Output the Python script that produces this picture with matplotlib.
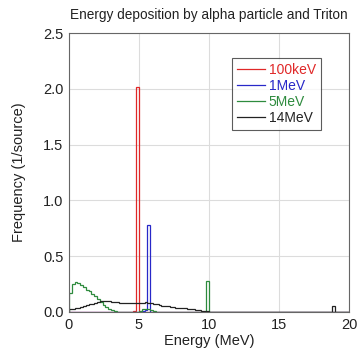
import numpy as np
import matplotlib
matplotlib.use("Agg")
import matplotlib.pyplot as plt

plt.rcParams['font.family'] = ['Liberation Sans', 'DejaVu Sans']

# 0.2 MeV bins from 0 to 20 MeV
bin_edges = np.linspace(0, 20, 101)

labels = ["100keV", "1MeV", "5MeV", "14MeV"]
colors = ["#e02828", "#2828c8", "#2e8b3e", "#222222"]

# sparse histograms: {bin_start_MeV: frequency}
red_vals = {4.6: 0.005, 4.8: 2.02}
blue_vals = {5.2: 0.01, 5.4: 0.02, 5.6: 0.78}
green_vals = {0.0: 0.17, 0.2: 0.25, 0.4: 0.27, 0.6: 0.26, 0.8: 0.24, 1.0: 0.22,
              1.2: 0.20, 1.4: 0.185, 1.6: 0.165, 1.8: 0.14, 2.0: 0.12, 2.2: 0.09,
              2.4: 0.065, 2.6: 0.045, 2.8: 0.03, 3.0: 0.018, 3.2: 0.008, 3.4: 0.004,
              3.6: 0.002, 5.0: 0.01, 5.2: 0.025, 5.4: 0.03, 5.6: 0.025, 5.8: 0.02,
              6.0: 0.01, 9.8: 0.28}
black_vals = {0.0: 0.025, 0.2: 0.03, 0.4: 0.035, 0.6: 0.04, 0.8: 0.045, 1.0: 0.055,
              1.2: 0.06, 1.4: 0.07, 1.6: 0.075, 1.8: 0.085, 2.0: 0.09, 2.2: 0.095,
              2.4: 0.10, 2.6: 0.098, 2.8: 0.095, 3.0: 0.092, 3.2: 0.09, 3.4: 0.088,
              3.6: 0.085, 3.8: 0.083, 4.0: 0.08, 4.2: 0.082, 4.4: 0.08, 4.6: 0.078,
              4.8: 0.08, 5.0: 0.083, 5.2: 0.085, 5.4: 0.088, 5.6: 0.085, 5.8: 0.082,
              6.0: 0.075, 6.2: 0.068, 6.4: 0.062, 6.6: 0.058, 6.8: 0.055, 7.0: 0.05,
              7.2: 0.048, 7.4: 0.045, 7.6: 0.04, 7.8: 0.038, 8.0: 0.035, 8.2: 0.032,
              8.4: 0.03, 8.6: 0.028, 8.8: 0.025, 9.0: 0.02, 9.2: 0.018, 9.4: 0.012,
              9.6: 0.008, 9.8: 0.005, 10.0: 0.004, 10.2: 0.004, 10.4: 0.003,
              10.6: 0.003, 10.8: 0.003, 11.0: 0.002, 11.2: 0.002, 11.4: 0.002,
              11.6: 0.001, 11.8: 0.001, 18.8: 0.05}

series = [red_vals, blue_vals, green_vals, black_vals]

x_ticks = [0, 5, 10, 15, 20]
y_ticks = [0.0, 0.5, 1.0, 1.5, 2.0, 2.5]


def to_array(d):
    arr = np.zeros(len(bin_edges) - 1)
    for k, v in d.items():
        arr[int(round(k / 0.2))] = v
    return arr


fig = plt.figure(figsize=(3.58, 3.56), dpi=100)
ax = fig.add_axes([0.1927, 0.1236, 0.7821, 0.7837])

for d, lab, c in zip(series, labels, colors):
    ax.stairs(to_array(d), bin_edges, color=c, lw=0.9, label=lab)

ax.set_xlim(0, 20)
ax.set_ylim(0, 2.5)
ax.set_xticks(x_ticks)
ax.set_yticks(y_ticks)
ax.set_yticklabels([f"{v:.1f}" for v in y_ticks])
ax.grid(True, color="#dcdcdc", lw=0.8)
ax.set_axisbelow(True)
ax.tick_params(length=0, labelsize=10.5, colors="#222222", pad=4)
for s in ax.spines.values():
    s.set_color("#666666")
    s.set_linewidth(0.8)

ax.set_xlabel("Energy (MeV)", fontsize=10.5, color="#222222", labelpad=2)
ax.set_ylabel("Frequency (1/source)", fontsize=10.5, color="#222222", labelpad=12)
ax.set_title("Energy deposition by alpha particle and Triton", fontsize=9.8,
             color="#222222", pad=10)

leg = ax.legend(loc="upper left", bbox_to_anchor=(0.582, 0.91), fontsize=10,
                frameon=True, fancybox=False, edgecolor="#333333",
                handlelength=2.0, handletextpad=0.3, borderpad=0.35,
                labelspacing=0.15, borderaxespad=0)
leg.get_frame().set_linewidth(0.8)
for t, c in zip(leg.get_texts(), colors):
    t.set_color(c)
for h in leg.get_lines():
    h.set_linewidth(0.9)

fig.savefig("out.png", dpi=100)
